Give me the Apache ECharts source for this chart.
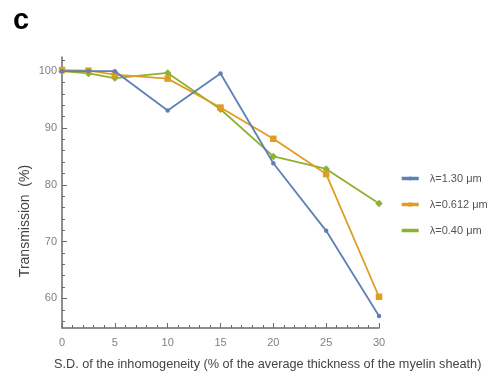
<!DOCTYPE html>
<html>
<head>
<meta charset="utf-8">
<script src="https://cdn.jsdelivr.net/npm/echarts@6/dist/echarts.min.js"></script>
<style>
  html, body { margin: 0; padding: 0; background: #fff; }
  #chart { width: 490px; height: 377px; }
</style>
</head>
<body>
<div id="chart"></div>
<script>
// Standard deviation of the inhomogeneity (% of mean myelin thickness)
const sdValues = [0, 2.5, 5, 10, 15, 20, 25, 30];

// Transmission (%) for each wavelength
const trans130 = [100, 100, 100, 93.1, 99.6, 83.8, 71.9, 56.9];
const trans0612 = [100.2, 100.1, 99.4, 98.7, 93.6, 88.1, 81.9, 60.3];
const trans040 = [100, 99.6, 98.8, 99.7, 93.3, 85.0, 82.8, 76.7];

const seriesNames = ['λ=1.30 μm', 'λ=0.612 μm', 'λ=0.40 μm'];
const yTickLabels = [60, 70, 80, 90, 100];
const yMinorTicks = [56, 58, 60, 62, 64, 66, 68, 70, 72, 74, 76, 78, 80, 82, 84, 86, 88, 90, 92, 94, 96, 98, 100, 102];

const colors = ['#5e81b5', '#e19c24', '#8fb032'];
const symbols = ['circle', 'rect', 'diamond'];
const symbolSizes = [4.5, 6.5, 7.5];

const pairs = arr => sdValues.map((x, i) => [x, arr[i]]);
const allData = [trans130, trans0612, trans040];

const axisGray = '#6b6b6b';
const labelGray = '#808080';
const fontFam = 'Liberation Sans, Arial, sans-serif';

const chart = echarts.init(document.getElementById('chart'), null, { renderer: 'canvas' });

chart.setOption({
  animation: false,
  backgroundColor: '#ffffff',
  textStyle: { fontFamily: fontFam },
  grid: { left: 62, right: 111, top: 57, bottom: 49 },
  legend: {
    orient: 'vertical',
    left: 395,
    top: 168,
    itemGap: 15,
    itemWidth: 17,
    itemHeight: 5,
    lineStyle: { width: 3.5 },
    textStyle: { fontSize: 11, color: '#555', padding: [0, 0, 0, 6] },
    data: seriesNames
  },
  xAxis: {
    type: 'value',
    min: 0,
    max: 30,
    interval: 5,
    axisLine: { show: true, lineStyle: { color: axisGray, width: 1.5 } },
    axisTick: { show: true, inside: true, length: 5, lineStyle: { color: axisGray } },
    minorTick: { show: true, splitNumber: 5, length: 3, lineStyle: { color: axisGray } },
    axisLabel: { color: labelGray, fontSize: 11, margin: 9 },
    splitLine: { show: false }
  },
  yAxis: [{
    type: 'value',
    min: 54.8,
    max: 102.5,
    axisLine: { show: true, lineStyle: { color: axisGray, width: 1.5 } },
    axisTick: { show: true, inside: true, length: 3, customValues: yMinorTicks, lineStyle: { color: axisGray } },
    axisLabel: { color: labelGray, fontSize: 11, margin: 5, customValues: yTickLabels },
    splitLine: { show: false }
  }, {
    type: 'value',
    position: 'left',
    min: 54.8,
    max: 102.5,
    axisLine: { show: false },
    axisTick: { show: true, inside: true, length: 5, customValues: yTickLabels, lineStyle: { color: axisGray } },
    axisLabel: { show: false },
    splitLine: { show: false }
  }],
  graphic: [{
    type: 'text',
    left: 13,
    top: 6,
    style: {
      text: 'c',
      fontSize: 29,
      fontWeight: 'bold',
      fill: '#000',
      fontFamily: fontFam
    }
  }, {
    type: 'text',
    left: 54,
    top: 358,
    style: {
      text: 'S.D. of the inhomogeneity (% of the average thickness of the myelin sheath)',
      fontSize: 12.7,
      fill: '#444',
      fontFamily: fontFam
    }
  }, {
    type: 'text',
    x: 25,
    y: 221,
    rotation: Math.PI / 2,
    style: {
      text: 'Transmission  (%)',
      fontSize: 14,
      fill: '#444',
      align: 'center',
      verticalAlign: 'middle',
      fontFamily: fontFam
    }
  }],
  series: seriesNames.map((name, i) => ({
    name: name,
    type: 'line',
    data: pairs(allData[i]),
    symbol: symbols[i],
    symbolSize: symbolSizes[i],
    showSymbol: true,
    itemStyle: { color: colors[i] },
    lineStyle: { color: colors[i], width: 1.8 },
    z: 3 - i
  }))
});
</script>
</body>
</html>
